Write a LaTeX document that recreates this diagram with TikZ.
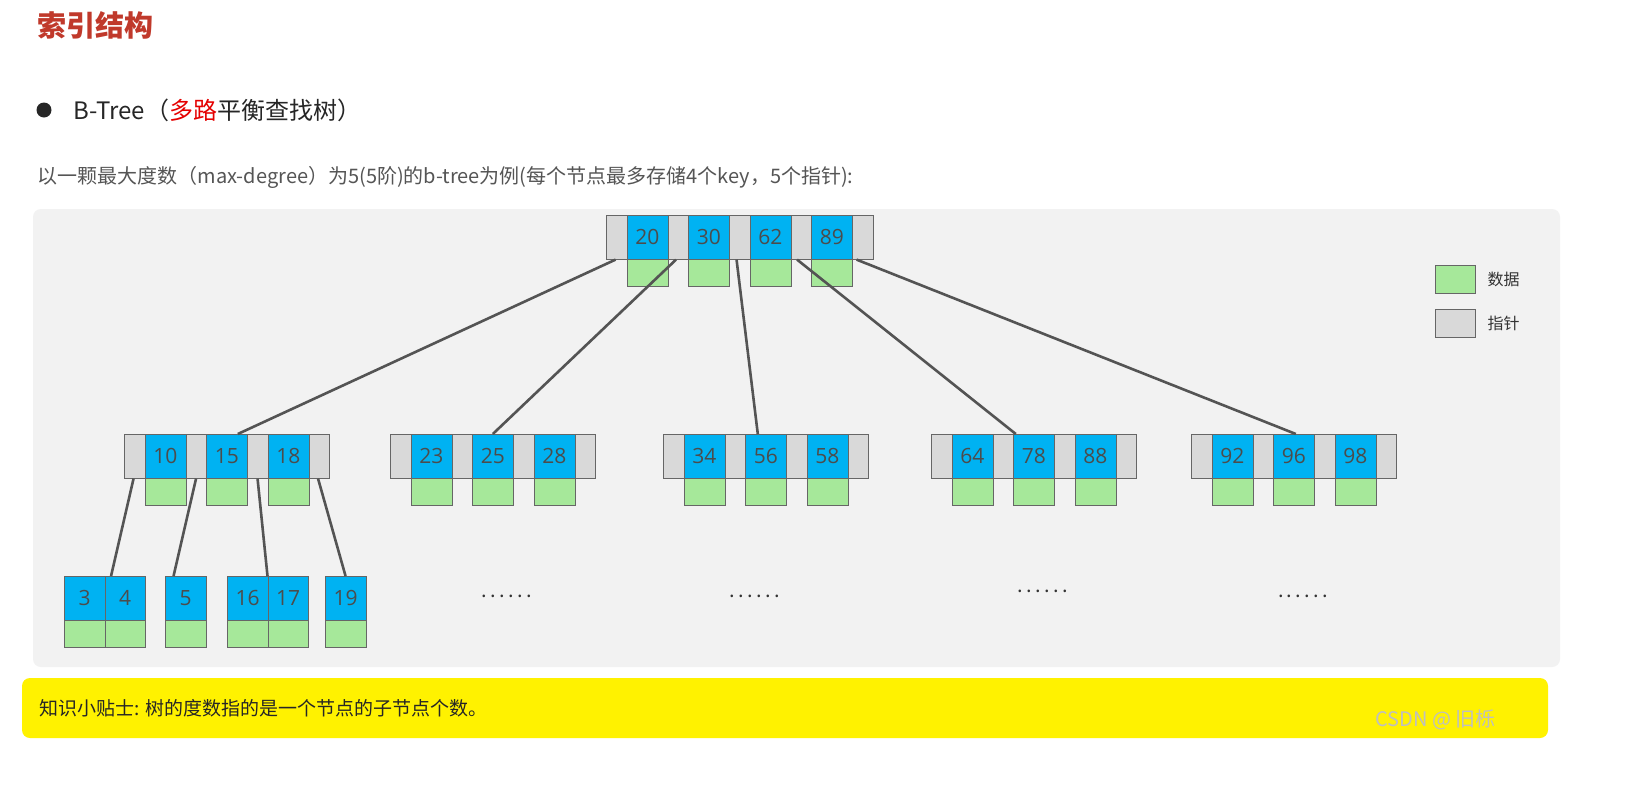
\documentclass[tikz,border=0pt]{standalone}
\usepackage{fontspec}
\setmainfont{Noto Sans CJK SC}
\newfontfamily\numfont{Open Sans}
\definecolor{kblue}{RGB}{0,178,242}
\definecolor{dgreen}{RGB}{166,232,154}
\definecolor{pgrey}{RGB}{217,217,217}
\definecolor{panel}{RGB}{242,242,242}
\definecolor{ttl}{RGB}{192,57,43}
\definecolor{txt}{RGB}{85,85,85}
\definecolor{ylw}{RGB}{255,242,0}
\newcommand\btnode[5]{%
  \foreach \k [count=\i from 0] in {#4}{
    \node[ptr] (#1-p\i) at (#2+\i*61.5,#3) {};
    \node[key] (#1-k\i) at (#2+\i*61.5+20.5,#3) {\k};
    \node[dat] (#1-d\i) at (#2+\i*61.5+20.5,#3+44) {};
  }
  \node[ptr] (#1-p#5) at (#2+#5*61.5,#3) {};
}
\newcommand\leaf[4]{%
  \node[key,minimum width=40.5pt] (#1) at (#2,#3) {#4};
  \node[dat,minimum width=40.5pt] (#1-d) at (#2,#3+44) {};
}
\begin{document}
\begin{tikzpicture}[x=1pt,y=-1pt,
  cell/.style={draw=black!60,line width=0.6pt,anchor=north west,inner sep=0pt},
  ptr/.style={cell,fill=pgrey,minimum width=20.5pt,minimum height=44pt},
  key/.style={cell,fill=kblue,minimum width=41pt,minimum height=44pt,text=black!70,font=\numfont\fontsize{21}{24}\selectfont},
  dat/.style={cell,fill=dgreen,minimum width=41pt,minimum height=27pt},
  edge/.style={draw=black!67,line width=2.6pt},
  dots/.style={font=\fontsize{20}{22}\selectfont,text=black!80}]
\useasboundingbox (0,0) rectangle (1636,785);
\fill[white] (0,0) rectangle (1636,785);
\fill[panel,rounded corners=8pt] (33,209) rectangle (1560,667);
\fill[ylw,rounded corners=8pt] (22,678) rectangle (1548,738);

\node[anchor=west,text=ttl,font=\bfseries\fontsize{29}{32}\selectfont] (title) at (34,25) {索引结构};
\node[circle,fill=black!85,minimum size=15pt,inner sep=0pt] (bul) at (44,110) {};
\node[anchor=west,font=\fontsize{24}{28}\selectfont,text=black!85] (sub) at (70,110) {B-Tree（\textcolor{red!90!black}{多路}平衡查找树）};
\node[anchor=west,font=\fontsize{20}{24}\selectfont,text=txt] (desc) at (34,177) {以一颗最大度数（max-degree）为5(5阶)的b-tree为例(每个节点最多存储4个key，5个指针):};
\node[anchor=west,font=\fontsize{19}{24}\selectfont,text=black!85] (tip) at (36,708) {知识小贴士: 树的度数指的是一个节点的子节点个数。};
\node[anchor=west,font=\fontsize{20}{24}\selectfont,text=white!75!black] (wm) at (1372,720) {CSDN @ 旧栎};

% legend
\node[dat,minimum width=40pt,minimum height=28pt] (lg1) at (1435,265) {};
\node[anchor=west,font=\fontsize{16}{20}\selectfont,text=black!80] (lt1) at (1484,279) {数据};
\node[ptr,minimum width=40pt,minimum height=28pt] (lg2) at (1435,309) {};
\node[anchor=west,font=\fontsize{16}{20}\selectfont,text=black!80] (lt2) at (1484,323) {指针};

% root
\btnode{r}{606}{215}{20,30,62,89}{4}
% level 1
\btnode{a}{124}{434}{10,15,18}{3}
\btnode{b}{390}{434}{23,25,28}{3}
\btnode{c}{663}{434}{34,56,58}{3}
\btnode{d}{931}{434}{64,78,88}{3}
\btnode{e}{1191}{434}{92,96,98}{3}
% leaves
\leaf{l3}{64}{576}{3}
\leaf{l4}{104.5}{576}{4}
\leaf{l5}{165}{576}{5}
\leaf{l16}{227}{576}{16}
\leaf{l17}{267.5}{576}{17}
\leaf{l19}{325}{576}{19}

\node[dots] (m1) at (507,596) {.\,.\,.\,.\,.\,.};
\node[dots] (m2) at (755,596) {.\,.\,.\,.\,.\,.};
\node[dots] (m3) at (1043,591) {.\,.\,.\,.\,.\,.};
\node[dots] (m4) at (1303,596) {.\,.\,.\,.\,.\,.};

% edges
\draw[edge] ([xshift=-1pt]r-p0.south) -- ([xshift=11pt]a-k1.north);
\draw[edge] ([xshift=-2pt]r-p1.south) -- (b-k1.north);
\draw[edge] ([xshift=-3pt]r-p2.south) -- ([xshift=-8pt]c-k1.north);
\draw[edge] ([xshift=-4pt]r-p3.south) -- ([xshift=-18pt]d-k1.north);
\draw[edge] ([xshift=-6pt]r-p4.south) -- ([xshift=2pt]e-k1.north);
\draw[edge] ([xshift=-1pt]a-p0.south) -- ([xshift=-14pt]l4.north);
\draw[edge] (a-p1.south) -- ([xshift=-12pt]l5.north);
\draw[edge] (a-p2.south) -- (l17.north west);
\draw[edge] ([xshift=-1pt]a-p3.south) -- (l19.north);
\end{tikzpicture}
\end{document}
